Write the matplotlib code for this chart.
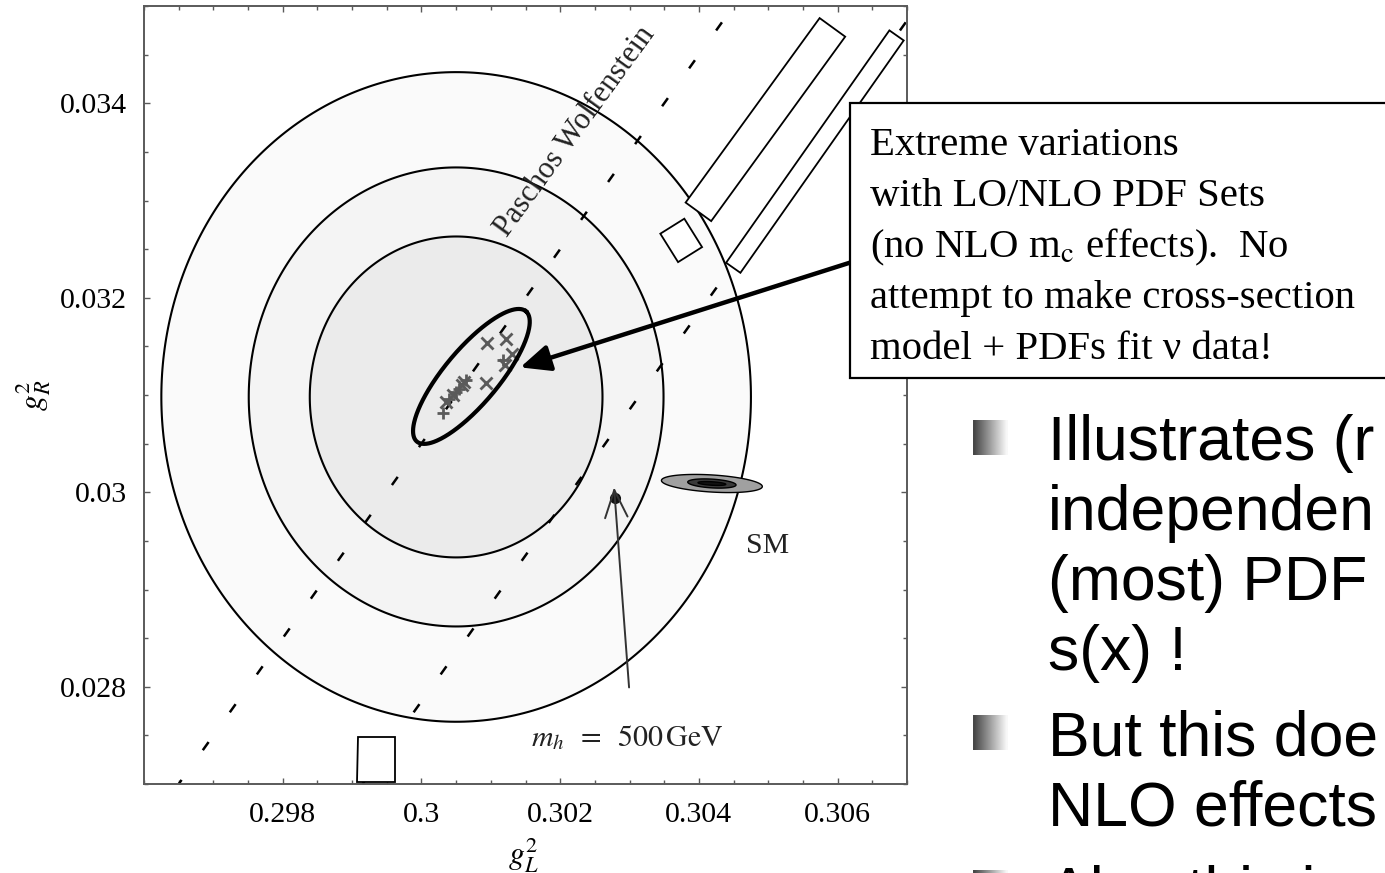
import numpy as np
import matplotlib
matplotlib.use("Agg")
import matplotlib.pyplot as plt
from matplotlib.patches import Polygon, Rectangle
from matplotlib.ticker import FixedLocator, FixedFormatter, MultipleLocator

plt.rcParams["font.family"] = ["Liberation Serif", "DejaVu Serif"]
plt.rcParams["mathtext.fontset"] = "stix"
plt.rcParams["lines.scale_dashes"] = False

# ---------------------------------------------------------------- data
x_lim = (0.296, 0.307)
y_lim = (0.027, 0.035)
x_ticks = [0.298, 0.300, 0.302, 0.304, 0.306]
x_ticklabels = ["0.298", "0.3", "0.302", "0.304", "0.306"]
y_ticks = [0.028, 0.030, 0.032, 0.034]
y_ticklabels = ["0.028", "0.03", "0.032", "0.034"]

# NuTeV fit contours (outer to inner): centre and half-widths
fit_center = (0.30050, 0.03098)
contour_rx = [0.00425, 0.00299, 0.00211]
contour_ry = [0.00334, 0.00236, 0.00165]
contour_fill = ["#fafafa", "#f4f4f4", "#ebebeb"]

# Paschos-Wolfenstein lines: g_R^2 = g_L^2 + offset
pw_offsets = [-0.26950, -0.27215]

# fits with different LO/NLO PDF sets
pdf_x = [0.30094, 0.30122, 0.30131, 0.30117, 0.30121, 0.30093,
         0.30064, 0.30059, 0.30050, 0.30045, 0.30040, 0.30036, 0.30031,
         0.30062, 0.30054]
pdf_y = [0.03153, 0.03158, 0.03142, 0.03136, 0.03131, 0.03112,
         0.03115, 0.03110, 0.03103, 0.03100, 0.03096, 0.03093, 0.03082,
         0.03113, 0.03106]
pdf_marker = ["x", "x", "x", "+", "x", "x",
              "+", "x", "+", "x", "+", "x", "+",
              "x", "+"]

# envelope of the PDF-set fits: centre, major and minor half-axis vectors
env_center = (0.30072, 0.031191)
env_major = (0.000786, 0.000670)
env_minor = (-0.000300, 0.000180)

# Standard Model prediction: nested ellipses (half-axes) and tilt dy/dx
sm_center = (0.304187, 0.030090)
sm_half_x = [0.000727, 0.000348, 0.000200]
sm_half_y = [0.0000880, 0.0000450, 0.0000180]
sm_fill = ["#a0a0a0", "#3a3a3a", "#111111"]
sm_tilt = -0.0425

# heavy Higgs point
mh_point = (0.30279, 0.029946)
mh_arrow_tail = (0.302993, 0.027993)
mh_arrow_tip = (0.302777, 0.030050)

# point the call-out arrow lands on
callout_tip = (0.301424, 0.031284)

callout_lines = [
    "Extreme variations",
    "with LO/NLO PDF Sets",
    r"(no NLO m$_{\rm c}$ effects).  No",
    "attempt to make cross-section",
    "model + PDFs fit \u03bd data!",
]

bullet_items = [
    ["Illustrates (r", "independen", "(most) PDF", "s(x) !"],
    ["But this doe", "NLO effects"],
    ["Also this is"],
]

# ---------------------------------------------------------------- figure
W, H = 1385, 873
fig = plt.figure(figsize=(W / 100, H / 100), dpi=100)
fig.patch.set_facecolor("white")


def fpx(x, y):
    """Pixel position (origin top-left) to figure fraction."""
    return (x / W, 1 - y / H)


ax = fig.add_axes([144 / W, 1 - 784 / H, 763 / W, 778 / H])
ax.set_xlim(*x_lim)
ax.set_ylim(*y_lim)

spine_col = "#5a5a5a"
for s in ax.spines.values():
    s.set_color(spine_col)
    s.set_linewidth(1.4)

ax.xaxis.set_major_locator(FixedLocator(x_ticks))
ax.xaxis.set_major_formatter(FixedFormatter(x_ticklabels))
ax.yaxis.set_major_locator(FixedLocator(y_ticks))
ax.yaxis.set_major_formatter(FixedFormatter(y_ticklabels))
ax.xaxis.set_minor_locator(MultipleLocator(0.0005))
ax.yaxis.set_minor_locator(MultipleLocator(0.0005))
ax.tick_params(which="both", direction="in", top=True, right=True,
               color=spine_col, width=1.0, labelsize=21.5)
ax.tick_params(which="major", length=4.5)
ax.tick_params(which="minor", length=2.6)
ax.tick_params(axis="x", pad=13)
ax.tick_params(axis="y", pad=12.5)

ax.set_xlabel(r"$g_L^2$", fontsize=23)
ax.set_ylabel(r"$g_R^2$", fontsize=23)
ax.xaxis.set_label_coords(0.497, -0.066)
ax.yaxis.set_label_coords(-0.12, 0.5)

# fit contours
t = np.linspace(0, 2 * np.pi, 400)
for rx, ry, fc in zip(contour_rx, contour_ry, contour_fill):
    ex = fit_center[0] + rx * np.cos(t)
    ey = fit_center[1] + ry * np.sin(t)
    ax.fill(ex, ey, facecolor=fc, edgecolor="black", linewidth=1.5, zorder=1)

# Paschos-Wolfenstein lines
dash_on, dash_off = 7.2, 26.3
for c in pw_offsets:
    x0 = y_lim[0] - c
    x1 = min(x_lim[1], y_lim[1] - c)
    xs = np.array([x0, x1])
    ax.plot(xs, xs + c, color="black", linewidth=1.8,
            linestyle=(3.6, (dash_on, dash_off)), zorder=2)

ax.text(0.302216, 0.033713, "Paschos Wolfenstein", fontsize=22,
        rotation=54, rotation_mode="anchor", ha="center", va="center",
        color="#222222", zorder=3)

# PDF-set fits
for px_, py_, m in zip(pdf_x, pdf_y, pdf_marker):
    ax.plot(px_, py_, linestyle="none", marker=m, markersize=8.5,
            markeredgewidth=2.0, color="#5a5a5a", zorder=3)

# envelope around PDF-set fits
ex = env_center[0] + env_major[0] * np.cos(t) + env_minor[0] * np.sin(t)
ey = env_center[1] + env_major[1] * np.cos(t) + env_minor[1] * np.sin(t)
ax.plot(ex, ey, color="black", linewidth=3.0, zorder=4)

# Standard Model ellipses
for hx, hy, fc in zip(sm_half_x, sm_half_y, sm_fill):
    ex = sm_center[0] + hx * np.cos(t)
    ey = sm_center[1] + hx * sm_tilt * np.cos(t) + hy * np.sin(t)
    ax.fill(ex, ey, facecolor=fc, edgecolor="black", linewidth=1.0, zorder=3)
ax.text(0.304676, 0.029380, "SM", fontsize=21.5, ha="left", va="baseline",
        color="#222222", zorder=3)

# heavy Higgs
ax.plot(*mh_point, marker="o", markersize=7, color="#111111",
        linestyle="none", zorder=4)
ax.annotate("", xy=mh_arrow_tip, xytext=mh_arrow_tail,
            arrowprops=dict(arrowstyle="->,head_length=1.1,head_width=0.45",
                            color="#333333", lw=1.4, shrinkA=0, shrinkB=0,
                            mutation_scale=18),
            zorder=4)
ax.text(0.302964, 0.027393, r"$m_h\;\;=\;\;500\,\mathrm{GeV}$",
        fontsize=21.5, ha="center", va="baseline", color="#222222", zorder=3)

# call-out arrow towards the PDF-set envelope
ax.annotate("", xy=callout_tip, xycoords="data",
            xytext=fpx(852, 262), textcoords="figure fraction",
            arrowprops=dict(arrowstyle="-|>,head_length=0.9,head_width=0.4",
                            color="black", lw=3.2, shrinkA=0, shrinkB=0,
                            mutation_scale=20),
            zorder=6)

# ---------------------------------------------------------------- overlay shapes


def rotated_rect(cx, cy, length, width, angle_deg):
    a = np.deg2rad(angle_deg)
    d = np.array([np.cos(a), -np.sin(a)]) * length / 2
    p = np.array([np.sin(a), np.cos(a)]) * width / 2
    c = np.array([cx, cy])
    pts = [c + d + p, c + d - p, c - d - p, c - d + p]
    return [fpx(*q) for q in pts]


overlay_boxes = [
    rotated_rect(765.4, 119.6, 228, 31.6, 54.0),
    rotated_rect(814.9, 151.6, 284, 17.5, 54.9),
    rotated_rect(681.2, 240.4, 28.3, 33.5, 32.0),
    [fpx(358, 737), fpx(395, 737), fpx(395, 781.5), fpx(356.5, 781.5)],
]
for pts in overlay_boxes:
    fig.add_artist(Polygon(pts, closed=True, facecolor="white",
                           edgecolor="black", linewidth=1.3, zorder=10))

# call-out box
bx0, by0 = fpx(850, 378)
bx1, by1 = fpx(1400, 103)
fig.add_artist(Rectangle((bx0, by0), bx1 - bx0, by1 - by0,
                         transform=fig.transFigure, facecolor="white",
                         edgecolor="black", linewidth=1.6, zorder=11))
for i, line in enumerate(callout_lines):
    fig.text(*fpx(870, 155 + 51 * i), line, fontsize=29.3,
             family=["Liberation Serif", "DejaVu Serif"],
             ha="left", va="baseline", color="black", zorder=12)

# ---------------------------------------------------------------- bullet text
bullet_baselines = [[460, 530, 600, 670], [755, 825], [910]]
grad = np.linspace(0.28, 0.97, 12)[None, :]
for lines, bases in zip(bullet_items, bullet_baselines):
    top = bases[0] - 40
    bax = fig.add_axes([973 / W, 1 - (top + 35) / H, 35 / W, 35 / H])
    bax.imshow(grad, cmap="gray", vmin=0, vmax=1, aspect="auto",
               interpolation="bilinear")
    bax.set_axis_off()
    for line, b in zip(lines, bases):
        fig.text(*fpx(1048, b), line, fontsize=45,
                 family=["Liberation Sans", "DejaVu Sans"],
                 ha="left", va="baseline", color="black")

fig.savefig("out.png", dpi=100)
